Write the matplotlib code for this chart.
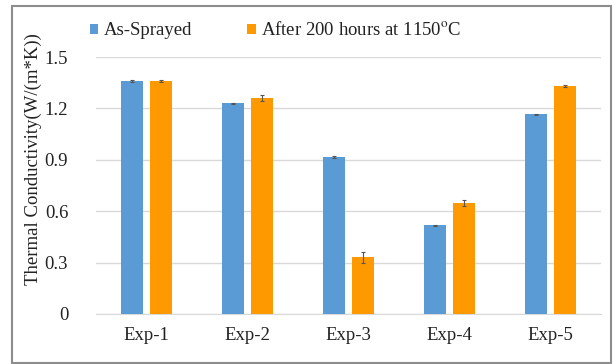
import matplotlib
matplotlib.use('Agg')
import numpy as np
import matplotlib.pyplot as plt
from matplotlib.patches import Rectangle

plt.rcParams['font.family'] = ['Liberation Serif', 'DejaVu Serif']
plt.rcParams['mathtext.fontset'] = 'stix'

experiments = ['Exp-1', 'Exp-2', 'Exp-3', 'Exp-4', 'Exp-5']
as_sprayed = [1.36, 1.23, 0.918, 0.518, 1.165]
as_sprayed_err = [0.006, 0.004, 0.006, 0.004, 0.005]
after_heat = [1.36, 1.262, 0.33, 0.648, 1.33]
after_heat_err = [0.008, 0.018, 0.03, 0.018, 0.007]
yticks = [0, 0.3, 0.6, 0.9, 1.2, 1.5]

blue = '#5B9BD5'
orange = '#FF9900'

fig = plt.figure(figsize=(6.13, 3.64), dpi=100)
ax = fig.add_axes([96 / 613, 1 - 314 / 364, 505 / 613, 257 / 364])

x = np.arange(len(experiments))
w = 0.225
off = 0.144
ekw = dict(ecolor='#555555', elinewidth=0.8, capsize=1.5, capthick=0.8)
ax.bar(x - off, as_sprayed, w, color=blue, yerr=as_sprayed_err,
       error_kw=ekw, label='As-Sprayed', zorder=3)
ax.bar(x + off, after_heat, w, color=orange, yerr=after_heat_err,
       error_kw=ekw, label='After 200 hours at 1150$^{\\mathrm{o}}$C', zorder=3)

ax.set_xlim(-0.5, len(experiments) - 0.5)
ax.set_ylim(0, 1.5)
ax.set_yticks(yticks)
ax.set_yticklabels(['0', '0.3', '0.6', '0.9', '1.2', '1.5'])
ax.set_xticks(x)
ax.set_xticklabels(experiments)
ax.tick_params(axis='both', length=0, labelsize=13.5, colors='#222222')
ax.tick_params(axis='y', pad=20)
ax.tick_params(axis='x', pad=9)
ax.grid(axis='y', color='#D9D9D9', linewidth=1, zorder=0)
for s in ['top', 'right', 'left']:
    ax.spines[s].set_visible(False)
ax.spines['bottom'].set_color('#D9D9D9')

fig.text(33 / 613, 1 - 159 / 364, 'Thermal Conductivity(W/(m*K))',
         rotation=90, ha='center', va='center', fontsize=13.5, color='#222222')

ax.legend(loc='center left', bbox_to_anchor=(-0.046, 1.104), ncol=2,
          frameon=False, fontsize=13.5, handlelength=0.45, handleheight=0.45,
          handletextpad=0.3, columnspacing=2.95, labelcolor='#222222')

# outer border around the whole figure
fig.patches.append(Rectangle((12 / 613, 1 / 364), 599 / 613, 357 / 364,
                             transform=fig.transFigure, fill=False,
                             edgecolor='#8C8C8C', linewidth=1.5))

fig.savefig('out.png', dpi=100)
